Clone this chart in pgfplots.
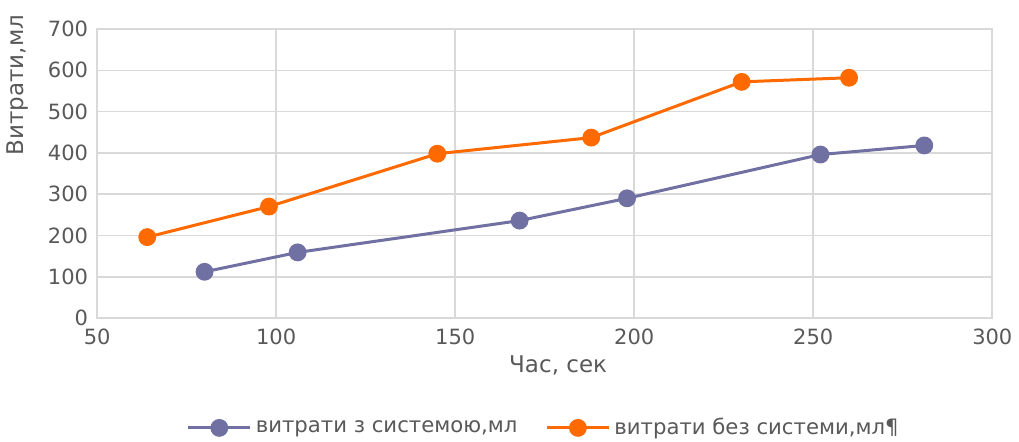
\documentclass[border=0pt]{standalone}
\usepackage{pgfplots}
\pgfplotsset{compat=1.18}
\usepackage{fontspec}
\setmainfont{DejaVu Sans}
\definecolor{txt}{HTML}{595959}
\definecolor{gridc}{HTML}{D9D9D9}
\definecolor{purp}{HTML}{7070A2}
\definecolor{orng}{HTML}{FF6A00}
\begin{document}
\begin{tikzpicture}
\begin{axis}[
  scale only axis,
  width=447.5pt, height=144.5pt,
  xmin=50, xmax=300, ymin=0, ymax=700,
  xtick={50,100,...,300}, ytick={0,100,...,700},
  grid=major,
  major grid style={gridc, line width=0.8pt},
  axis line style={gridc, line width=0.8pt},
  tick style={draw=none},
  ticklabel style={font=\fontsize{10.5}{12}\selectfont, text=txt},
  /pgf/number format/assume math mode=true,
  xticklabel style={yshift=-2pt},
  yticklabel style={xshift=-1pt},
  xlabel={Час, сек},
  ylabel={Витрати,мл},
  label style={font=\fontsize{11.5}{13}\selectfont, text=txt},
  xlabel style={at={(axis description cs:0.515,-0.163)}, anchor=center},
  ylabel style={at={(axis description cs:-0.089,0.806)}, anchor=center, rotate=0},
  legend style={at={(0.5,-0.38)}, anchor=center, draw=none, legend columns=2,
    inner sep=0pt, outer sep=0pt,
    font=\fontsize{10.6}{12}\selectfont, text=txt,
    /tikz/every even column/.append style={column sep=12pt}},
  legend cell align=left,
  legend image code/.code={\draw[mark repeat=2,mark phase=2] plot coordinates {(0pt,0pt) (15.5pt,0pt) (31pt,0pt)};},
]
\addplot[color=purp, line width=1.5pt, mark=*, mark size=3.7pt, mark options={fill=purp, draw=purp}]
  coordinates {(80,112) (106,159) (168,236) (198,290) (252,396) (281,418)};
\addlegendentry{витрати з системою,мл}
\addplot[color=orng, line width=1.5pt, mark=*, mark size=3.7pt, mark options={fill=orng, draw=orng}]
  coordinates {(64,196) (98,270) (145,398) (188,437) (230,572) (260,582)};
\addlegendentry{витрати без системи,мл¶}
\end{axis}
\path (current axis.north west) ++(0,14.5pt) (current axis.south west) ++(0,-61.5pt);
\end{tikzpicture}
\end{document}
